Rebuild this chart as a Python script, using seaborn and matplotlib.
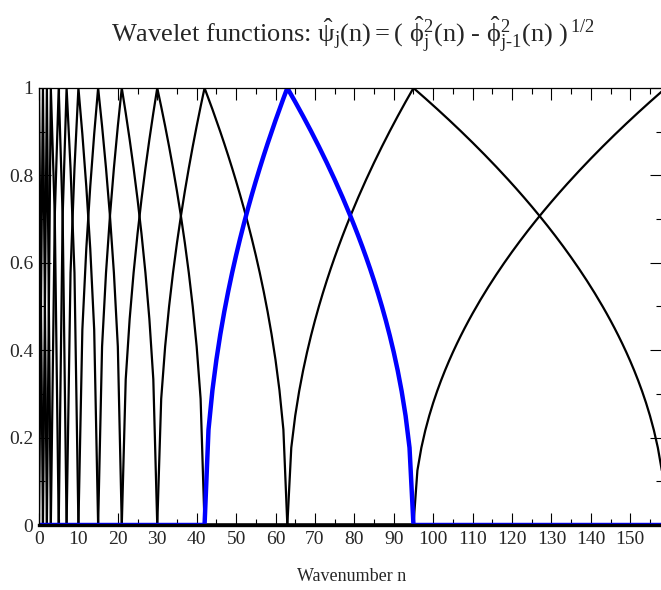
import numpy as np
import pandas as pd
import matplotlib
matplotlib.use("Agg")
import matplotlib.pyplot as plt
from matplotlib.ticker import MultipleLocator, FixedLocator, FixedFormatter
import seaborn as sns

# ---- data ----
# wavenumbers at which each wavelet peaks (band edges)
band_edges = [0, 1, 2, 3, 5, 7, 10, 15, 21, 30, 42, 63, 95, 159]
# discrete wavenumber samples shown (0 .. 158)
wavenumber = list(range(0, 159))
highlight_peak = 63          # the blue wavelet
x_ticks = [0, 10, 20, 30, 40, 50, 60, 70, 80, 90, 100, 110, 120, 130, 140, 150]
y_ticks = [0, 0.2, 0.4, 0.6, 0.8, 1.0]
y_tick_labels = ["0", "0.2", "0.4", "0.6", "0.8", "1"]

# psi_j(n) = (phi_j^2(n) - phi_{j-1}^2(n))^(1/2), phi_j^2 piecewise linear between edges
n = np.array(wavenumber, dtype=float)
rows = []
for k, peak in enumerate(band_edges):
    lo = band_edges[k - 1] if k > 0 else peak
    hi = band_edges[k + 1] if k + 1 < len(band_edges) else peak + 1
    xs, ys = [], []
    if k > 0:
        xs += [lo]; ys += [0.0]
    xs += [peak]; ys += [1.0]
    xs += [hi]; ys += [0.0]
    sq = np.interp(n, xs, ys, left=0.0, right=0.0)
    if k == 0:
        sq = np.where(n <= peak, 1.0, sq)
    psi = np.sqrt(np.clip(sq, 0, 1))
    for xi, yi in zip(n, psi):
        rows.append({"n": xi, "psi": yi, "peak": peak})
df = pd.DataFrame(rows)

# ---- style ----
sns.set_style("ticks")
plt.rcParams["font.family"] = ["Liberation Serif", "DejaVu Serif"]
plt.rcParams["mathtext.fontset"] = "custom"
plt.rcParams["mathtext.rm"] = "Liberation Serif"
plt.rcParams["mathtext.it"] = "Liberation Serif"
plt.rcParams["mathtext.default"] = "rm"

fig = plt.figure(figsize=(6.61, 5.90), dpi=100)
ax = fig.add_axes([39 / 661, 1 - 525 / 590, (661.8 - 39) / 661, (525 - 88) / 590])

for peak in band_edges:
    if peak == highlight_peak:
        continue
    sns.lineplot(data=df[df["peak"] == peak], x="n", y="psi", ax=ax,
                 color="black", linewidth=1.6, estimator=None, legend=False)
sns.lineplot(data=df[df["peak"] == highlight_peak], x="n", y="psi", ax=ax,
             color="#0000ff", linewidth=3.2, estimator=None, legend=False, zorder=2.2)

ax.set_xlim(0, 158)
ax.set_ylim(0, 1)
ax.xaxis.set_major_locator(FixedLocator(x_ticks))
ax.xaxis.set_minor_locator(MultipleLocator(5))
ax.yaxis.set_major_locator(FixedLocator(y_ticks))
ax.yaxis.set_major_formatter(FixedFormatter(y_tick_labels))
ax.yaxis.set_minor_locator(MultipleLocator(0.1))
ax.tick_params(which="both", direction="in", top=True, right=True,
               color="black", width=0.8)
ax.tick_params(which="major", length=8.5, labelsize=14, pad=4)
ax.tick_params(which="minor", length=4)
ax.set_xlabel("")
ax.set_ylabel("")
for side in ["left", "top", "right"]:
    ax.spines[side].set_linewidth(0.9)
    ax.spines[side].set_color("black")
ax.spines["bottom"].set_linewidth(2.4)
ax.spines["bottom"].set_color("black")

fig.text(353 / 661, 1 - 42 / 590,
         "Wavelet functions: $\\hat{\\psi}_{j}(n) = (\\ \\hat{\\phi}_{j}^{2}(n)$ - "
         "$\\hat{\\phi}_{j\u20101}^{2}(n)\\ )^{\\,1/2}$",
         ha="center", va="baseline", fontsize=19)
fig.text(352 / 661, 1 - 581 / 590, "Wavenumber n", ha="center", va="baseline",
         fontsize=13)

fig.savefig("out.png", dpi=100)
